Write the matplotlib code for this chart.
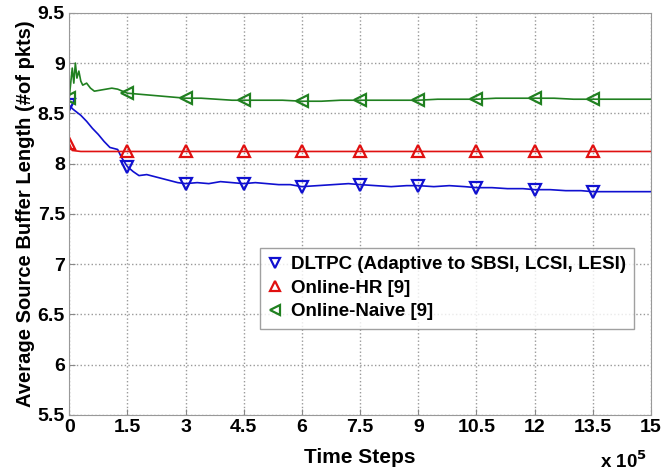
import matplotlib
matplotlib.use("Agg")
import matplotlib.pyplot as plt

plt.rcParams['font.family'] = ['Liberation Sans', 'DejaVu Sans']
plt.rcParams['font.weight'] = 'bold'
plt.rcParams['mathtext.default'] = 'bf'

# x in units of 1e5 time steps
dltpc_x = [0, 0.1, 0.2, 0.3, 0.45, 0.6, 0.75, 0.9, 1.05, 1.15, 1.25, 1.35, 1.5, 1.65, 1.8, 2.0, 2.2, 2.4, 2.6,
           2.8, 3.0, 3.3, 3.6, 3.9, 4.2, 4.5, 4.8, 5.1, 5.4, 5.7, 6.0, 6.4, 6.8, 7.2, 7.5, 7.9, 8.3, 8.7,
           9.0, 9.4, 9.8, 10.2, 10.5, 10.9, 11.3, 11.7, 12.0, 12.4, 12.8, 13.2, 13.5, 14.0, 14.5, 15.0]
dltpc_y = [8.58, 8.54, 8.51, 8.48, 8.42, 8.35, 8.29, 8.22, 8.16, 8.15, 8.14, 8.06, 7.97, 7.92, 7.88, 7.89, 7.87, 7.85,
           7.83, 7.81, 7.80, 7.81, 7.80, 7.82, 7.81, 7.80, 7.81, 7.80, 7.79, 7.79, 7.77, 7.78, 7.79, 7.80, 7.79, 7.78,
           7.77, 7.78, 7.78, 7.77, 7.78, 7.77, 7.76, 7.76, 7.75, 7.75, 7.74, 7.74, 7.73, 7.73, 7.72, 7.72, 7.72, 7.72]

hr_x = [0, 0.08, 0.3, 1.5, 3.0, 4.5, 6.0, 7.5, 9.0, 10.5, 12.0, 13.5, 15.0]
hr_y = [8.20, 8.13, 8.12, 8.12, 8.12, 8.12, 8.12, 8.12, 8.12, 8.12, 8.12, 8.12, 8.12]

naive_x = [0, 0.08, 0.12, 0.16, 0.2, 0.25, 0.3, 0.35, 0.45, 0.55, 0.65, 0.8, 0.95, 1.1, 1.25, 1.5, 1.8, 2.1,
           2.4, 2.7, 3.0, 3.4, 3.8, 4.2, 4.5, 5.0, 5.5, 6.0, 6.5, 7.0, 7.5, 8.0, 8.5, 9.0, 9.5, 10.0,
           10.5, 11.0, 11.5, 12.0, 12.5, 13.0, 13.5, 14.0, 14.5, 15.0]
naive_y = [8.65, 8.95, 8.80, 9.00, 8.85, 8.92, 8.82, 8.78, 8.80, 8.75, 8.72, 8.73, 8.74, 8.75, 8.74, 8.70, 8.69, 8.68,
           8.67, 8.66, 8.65, 8.65, 8.64, 8.63, 8.63, 8.63, 8.63, 8.62, 8.62, 8.63, 8.63, 8.63, 8.63, 8.63, 8.64, 8.64,
           8.64, 8.65, 8.65, 8.65, 8.65, 8.64, 8.64, 8.64, 8.64, 8.64]

marker_x = [0, 1.5, 3.0, 4.5, 6.0, 7.5, 9.0, 10.5, 12.0, 13.5]

labels = ['DLTPC (Adaptive to SBSI, LCSI, LESI)', 'Online-HR [9]', 'Online-Naive [9]']
xticks = [0, 1.5, 3, 4.5, 6, 7.5, 9, 10.5, 12, 13.5, 15]
xtick_labels = ['0', '1.5', '3', '4.5', '6', '7.5', '9', '10.5', '12', '13.5', '15']
yticks = [5.5, 6, 6.5, 7, 7.5, 8, 8.5, 9, 9.5]
ytick_labels = ['5.5', '6', '6.5', '7', '7.5', '8', '8.5', '9', '9.5']

fig = plt.figure(figsize=(6.65, 4.74), dpi=100)
ax = fig.add_axes([0.104, 0.125, 0.875, 0.848])

blue = '#1010d0'
red = '#e01010'
green = '#208020'

def markers_idx(xs):
    idx = []
    for m in marker_x:
        best = min(range(len(xs)), key=lambda i: abs(xs[i] - m))
        idx.append(best)
    return idx

ax.plot(dltpc_x, dltpc_y, color=blue, lw=1.2, marker='v', markevery=markers_idx(dltpc_x),
        ms=9, mfc='none', mew=1.6, label=labels[0])
ax.plot(hr_x, hr_y, color=red, lw=1.2, marker='^', markevery=markers_idx(hr_x),
        ms=9, mfc='none', mew=1.6, label=labels[1])
ax.plot(naive_x, naive_y, color=green, lw=1.2, marker='<', markevery=markers_idx(naive_x),
        ms=9, mfc='none', mew=1.6, label=labels[2])

ax.set_xlim(0, 15)
ax.set_ylim(5.5, 9.5)
ax.set_xticks(xticks)
ax.set_xticklabels(xtick_labels)
ax.set_yticks(yticks)
ax.set_yticklabels(ytick_labels)
ax.tick_params(labelsize=14, direction='in', length=4, color='#888888', pad=3)
for lab in ax.get_xticklabels() + ax.get_yticklabels():
    lab.set_fontweight('bold')
ax.grid(True, linestyle=':', color='#999999', lw=1.0)
for s in ax.spines.values():
    s.set_color('#999999')

ax.set_xlabel('Time Steps', fontsize=15, fontweight='bold', labelpad=9)
ax.set_ylabel('Average Source Buffer Length (#of pkts)', fontsize=14.5, fontweight='bold', labelpad=2)
fig.text(0.902, 0.012, r'x 10$^{5}$', fontsize=13.5, fontweight='bold')

leg = ax.legend(loc='upper left', bbox_to_anchor=(0.328, 0.416), prop={'weight': 'bold', 'size': 13.5},
                frameon=True, fancybox=False, edgecolor='#888888', handlelength=0.7, handletextpad=0.5,
                borderpad=0.45, labelspacing=0.35, borderaxespad=0, markerscale=0.75)
leg.get_frame().set_linewidth(1.0)
for h in leg.get_lines():
    h.set_linestyle('none')

fig.savefig('out.png', dpi=100)
